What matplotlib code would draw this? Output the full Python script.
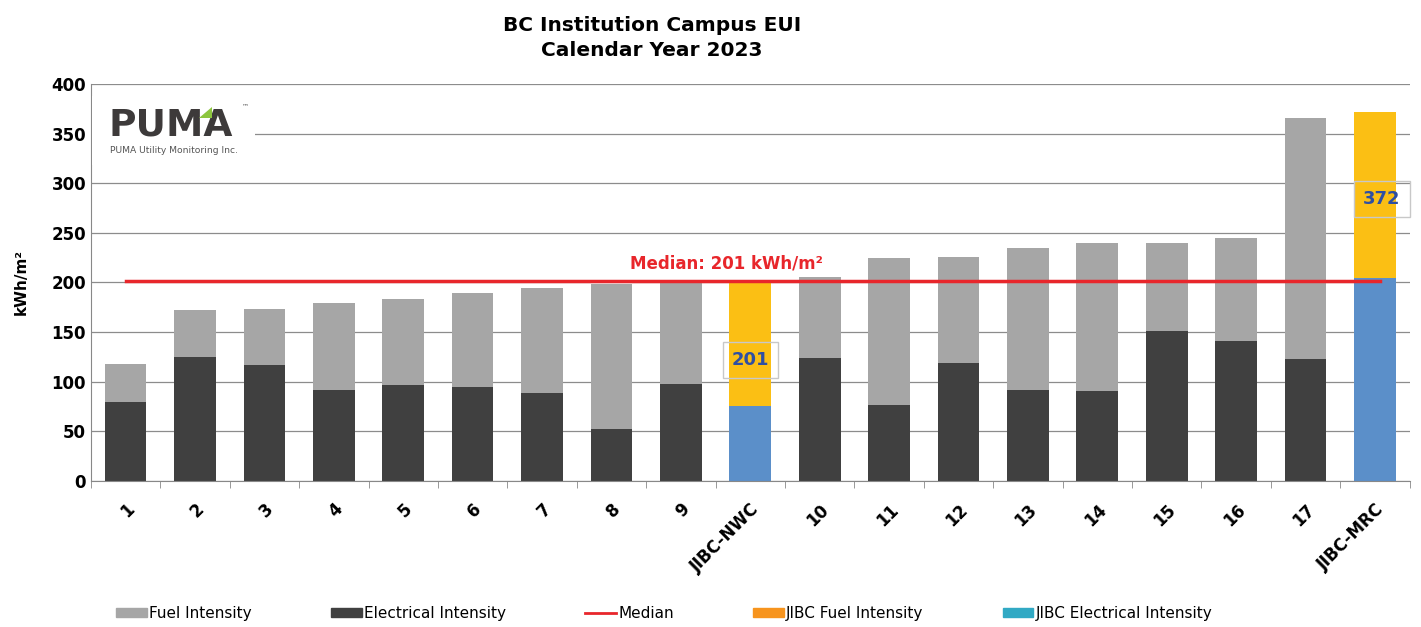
import matplotlib.pyplot as plt
import numpy as np
from matplotlib.lines import Line2D
from matplotlib.patches import Patch, Polygon, Rectangle

categories = ["1", "2", "3", "4", "5", "6", "7", "8", "9", "JIBC-NWC",
              "10", "11", "12", "13", "14", "15", "16", "17", "JIBC-MRC"]
total = [118, 172, 173, 179, 183, 189, 194, 198, 201, 201,
         206, 225, 226, 235, 240, 240, 245, 366, 372]
electrical = [80, 125, 117, 92, 97, 95, 89, 52, 98, 75,
              124, 76, 119, 92, 91, 151, 141, 123, 205]
jibc = ["JIBC-NWC", "JIBC-MRC"]
median = 201

fuel = [t - e for t, e in zip(total, electrical)]

FUEL = "#a6a6a6"
ELEC = "#404040"
J_FUEL = "#fbbf14"
J_ELEC = "#5b8fc9"
RED = "#e8262b"

fig = plt.figure(figsize=(14.21, 6.27), dpi=100)
ax = fig.add_axes([0.064, 0.233, 0.928, 0.633])

x = np.arange(len(categories))
is_j = np.array([c in jibc for c in categories])
ax.bar(x, electrical, width=0.6, color=np.where(is_j, J_ELEC, ELEC), zorder=2)
ax.bar(x, fuel, bottom=electrical, width=0.6, color=np.where(is_j, J_FUEL, FUEL), zorder=2)

ax.plot([0, 18.08], [median, median], color=RED, lw=2.5, zorder=3)
ax.text(8.65, median + 9, f"Median: {median} kWh/m²", color=RED,
        fontsize=12, fontweight="bold", ha="center", va="bottom", zorder=4)

# value boxes on the JIBC bars
for c, ypos, dx in [("JIBC-NWC", 122, 0.0), ("JIBC-MRC", 284, 0.1)]:
    i = categories.index(c)
    ax.text(i + dx, ypos, f"{total[i]}", color="#2e4fa3", fontsize=13, fontweight="bold",
            ha="center", va="center", zorder=5,
            bbox=dict(boxstyle="square,pad=0.5", fc="none", ec="#c8c8c8", lw=1))

ax.set_ylim(0, 400)
ax.set_xlim(-0.5, len(categories) - 0.5)
ax.set_yticks(range(0, 401, 50))
ax.yaxis.grid(True, color="#8c8c8c", lw=0.9, zorder=0)
ax.set_axisbelow(True)
ax.set_ylabel("kWh/m²", fontsize=11, fontweight="bold", labelpad=16)
for s in ["top", "right"]:
    ax.spines[s].set_visible(False)
ax.spines["left"].set_color("#888888")
ax.spines["bottom"].set_color("#888888")
ax.tick_params(axis="y", length=0, labelsize=12)
for lab in ax.get_yticklabels():
    lab.set_fontweight("bold")

ax.set_xticks(x)
ax.set_xticklabels(categories, rotation=45, ha="right", rotation_mode="anchor",
                   fontsize=12, fontweight="bold")
ax.tick_params(axis="x", which="major", length=0, pad=14)
ax.set_xticks(np.arange(-0.5, len(categories), 1), minor=True)
ax.tick_params(axis="x", which="minor", length=5, color="#888888")

fig.text(0.459, 0.975, "BC Institution Campus EUI\nCalendar Year 2023", ha="center", va="top",
         fontsize=14.5, fontweight="bold", linespacing=1.4)

# logo
ax.add_patch(Rectangle((-0.49, 318), 2.35, 70, fc="white", ec="none", zorder=5))
ax.text(-0.24, 358, "PUMA", fontsize=27, fontweight="heavy", color="#3d3a3a",
        va="center", ha="left", zorder=6)
ax.add_patch(Polygon([[1.06, 366], [1.24, 366], [1.24, 377]], closed=True,
                     fc="#8dc63f", ec="none", zorder=7))
ax.text(-0.22, 333, "PUMA Utility Monitoring Inc.", fontsize=6.6, color="#555555",
        va="center", ha="left", zorder=7)
ax.text(1.68, 376, "™", fontsize=5, color="#555555", zorder=7)

handles = [Patch(color=FUEL), Patch(color=ELEC),
           Line2D([], [], color=RED, lw=2),
           Patch(color="#f7941d"), Patch(color="#31a9c4")]
labels = ["Fuel Intensity", "Electrical Intensity", "Median", "JIBC Fuel Intensity",
          "JIBC Electrical Intensity"]
fig.legend(handles, labels, loc="lower left", bbox_to_anchor=(0.072, -0.012), ncol=5,
           frameon=False, fontsize=11, columnspacing=5.2, handlelength=2.0,
           handleheight=0.5, handletextpad=0.15)

fig.savefig("out.png", dpi=100)
